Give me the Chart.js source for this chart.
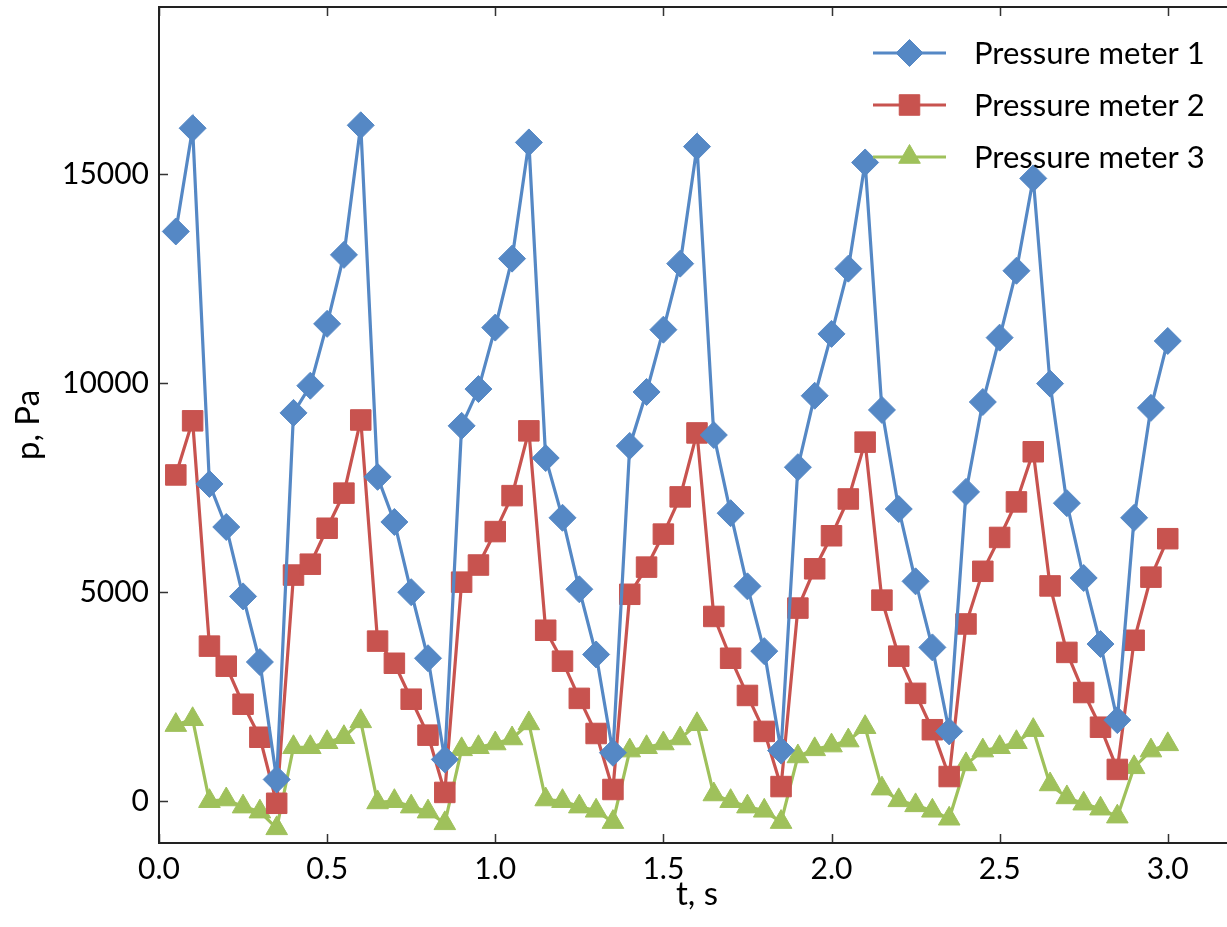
<!DOCTYPE html>
<html>
<head>
<meta charset="utf-8">
<script src="https://cdn.jsdelivr.net/npm/chart.js@4.4.1/dist/chart.umd.min.js"></script>
<style>
  html, body { margin: 0; padding: 0; background: #fff; overflow: hidden; }
  #wrap { position: relative; width: 1250px; height: 927px; }
</style>
</head>
<body>
<div id="wrap"><canvas id="chart"></canvas></div>
<script>
// time points, s
const tValues = [
  0.05, 0.10, 0.15, 0.20, 0.25, 0.30, 0.35, 0.40, 0.45, 0.50,
  0.55, 0.60, 0.65, 0.70, 0.75, 0.80, 0.85, 0.90, 0.95, 1.00,
  1.05, 1.10, 1.15, 1.20, 1.25, 1.30, 1.35, 1.40, 1.45, 1.50,
  1.55, 1.60, 1.65, 1.70, 1.75, 1.80, 1.85, 1.90, 1.95, 2.00,
  2.05, 2.10, 2.15, 2.20, 2.25, 2.30, 2.35, 2.40, 2.45, 2.50,
  2.55, 2.60, 2.65, 2.70, 2.75, 2.80, 2.85, 2.90, 2.95, 3.00
];

// pressure, Pa
const meter1 = [
  13630, 16100, 7590, 6560, 4900, 3330, 520, 9290, 9940, 11420,
  13070, 16170, 7760, 6680, 5000, 3420, 1000, 8980, 9860, 11330,
  12980, 15760, 8210, 6780, 5070, 3510, 1160, 8500, 9790, 11280,
  12860, 15660, 8760, 6890, 5140, 3590, 1210, 7990, 9700, 11180,
  12740, 15280, 9360, 6990, 5260, 3680, 1670, 7400, 9550, 11090,
  12690, 14900, 9990, 7130, 5340, 3760, 1940, 6780, 9410, 11010
];
const meter2 = [
  7805, 9100, 3710, 3230, 2320, 1530, -50, 5410, 5670, 6530,
  7370, 9120, 3830, 3300, 2440, 1580, 210, 5240, 5650, 6450,
  7310, 8860, 4090, 3350, 2460, 1620, 280, 4950, 5600, 6390,
  7280, 8810, 4420, 3420, 2530, 1670, 350, 4620, 5560, 6350,
  7230, 8590, 4810, 3470, 2580, 1710, 590, 4240, 5500, 6310,
  7160, 8360, 5150, 3560, 2600, 1770, 760, 3850, 5360, 6280
];
const meter3 = [
  1820, 1960, 0, 40, -130, -250, -650, 1290, 1290, 1410,
  1530, 1910, -30, 0, -130, -250, -530, 1240, 1290, 1380,
  1500, 1860, 40, 0, -130, -230, -500, 1210, 1290, 1380,
  1500, 1840, 160, 0, -130, -230, -500, 1070, 1240, 1330,
  1450, 1770, 300, 20, -100, -230, -420, 880, 1210, 1290,
  1410, 1700, 400, 90, -60, -180, -370, 810, 1210, 1360
];

const seriesNames = ["Pressure meter 1", "Pressure meter 2", "Pressure meter 3"];
const xTicks = [0.0, 0.5, 1.0, 1.5, 2.0, 2.5, 3.0];
const yTicks = [0, 5000, 10000, 15000];

const colors = ["#5588c5", "#c8534f", "#9fc15b"];
const styles = [
  { pointStyle: "rectRot", radius: 13.5 },
  { pointStyle: "rect", radius: 14.5 },
  { pointStyle: "triangle", radius: 12.5 }
];
const FONT = "Lato, 'Open Sans', sans-serif";

function toXY(vals) {
  return vals.map((v, i) => ({ x: tValues[i], y: v }));
}

const datasets = [meter1, meter2, meter3].map((vals, k) => ({
  label: seriesNames[k],
  data: toXY(vals),
  borderColor: colors[k],
  backgroundColor: colors[k],
  pointBackgroundColor: colors[k],
  pointBorderColor: colors[k],
  pointBorderWidth: 1,
  pointStyle: styles[k].pointStyle,
  pointRadius: styles[k].radius,
  borderWidth: 3.2,
  tension: 0
}));

// frame + inward ticks like the matplotlib original
const frameTicks = {
  id: "frameTicks",
  afterDraw(chart) {
    const { ctx, chartArea: a, scales } = chart;
    ctx.save();
    ctx.strokeStyle = "#333";
    ctx.lineWidth = 1.5;
    ctx.beginPath();
    for (const t of xTicks) {
      const px = Math.round(scales.x.getPixelForValue(t)) + 0.5;
      ctx.moveTo(px, a.bottom); ctx.lineTo(px, a.bottom - 9);
      ctx.moveTo(px, a.top); ctx.lineTo(px, a.top + 9);
    }
    for (const t of yTicks) {
      const py = Math.round(scales.y.getPixelForValue(t)) + 0.5;
      ctx.moveTo(a.left, py); ctx.lineTo(a.left + 9, py);
    }
    ctx.stroke();
    ctx.strokeStyle = "#222";
    ctx.lineWidth = 2;
    ctx.beginPath();
    ctx.moveTo(a.right, a.top);
    ctx.lineTo(a.left, a.top);
    ctx.lineTo(a.left, a.bottom);
    ctx.lineTo(a.right, a.bottom);
    ctx.stroke();
    ctx.restore();
  }
};

// legend with line + marker, drawn inside the plot
const lineLegend = {
  id: "lineLegend",
  afterDatasetsDraw(chart) {
    const ctx = chart.ctx;
    const x0 = 873, x1 = 946, textX = 974;
    const rows = [53, 105, 157];
    ctx.save();
    chart.data.datasets.forEach((ds, k) => {
      const y = rows[k];
      ctx.strokeStyle = ds.borderColor;
      ctx.lineWidth = ds.borderWidth;
      ctx.beginPath();
      ctx.moveTo(x0, y); ctx.lineTo(x1, y);
      ctx.stroke();
      ctx.fillStyle = ds.pointBackgroundColor;
      ctx.strokeStyle = ds.pointBorderColor;
      ctx.lineWidth = 1;
      Chart.helpers.drawPoint(ctx, {
        pointStyle: ds.pointStyle, radius: ds.pointRadius, rotation: 0, borderWidth: 1
      }, (x0 + x1) / 2, y);
      ctx.fillStyle = "#000";
      ctx.font = "31px " + FONT;
      ctx.textBaseline = "middle";
      ctx.textAlign = "left";
      ctx.fillText(ds.label, textX, y + 1);
    });
    ctx.restore();
  }
};

new Chart(document.getElementById("chart"), {
  type: "line",
  data: { datasets: datasets },
  plugins: [frameTicks, lineLegend],
  options: {
    responsive: true,
    maintainAspectRatio: false,
    animation: false,
    layout: { autoPadding: false, padding: { top: 7, right: 15, left: 0, bottom: 0 } },
    plugins: {
      legend: { display: false },
      tooltip: { enabled: false }
    },
    scales: {
      x: {
        type: "linear",
        min: 0,
        max: 3.2,
        afterBuildTicks: s => { s.ticks = xTicks.map(v => ({ value: v })); },
        afterFit: s => { s.height = 84; s.paddingLeft = 0; s.paddingRight = 0; },
        grid: { display: false, drawTicks: false },
        border: { display: false },
        ticks: {
          color: "#000",
          padding: 8,
          font: { family: FONT, size: 30 },
          callback: v => v.toFixed(1),
          maxRotation: 0
        },
        title: {
          display: true,
          text: "t, s",
          color: "#000",
          font: { family: FONT, size: 33 },
          padding: { top: 0, bottom: 13 }
        }
      },
      y: {
        min: -1000,
        max: 19000,
        afterBuildTicks: s => { s.ticks = yTicks.map(v => ({ value: v })); },
        afterFit: s => { s.width = 159; s.paddingTop = 0; s.paddingBottom = 0; },
        grid: { display: false, drawTicks: false },
        border: { display: false },
        ticks: {
          color: "#000",
          padding: 10,
          font: { family: FONT, size: 30 },
          callback: v => String(v)
        },
        title: {
          display: true,
          text: "p, Pa",
          color: "#000",
          font: { family: FONT, size: 33 },
          padding: { top: 9, bottom: 0 }
        }
      }
    }
  }
});
</script>
</body>
</html>
